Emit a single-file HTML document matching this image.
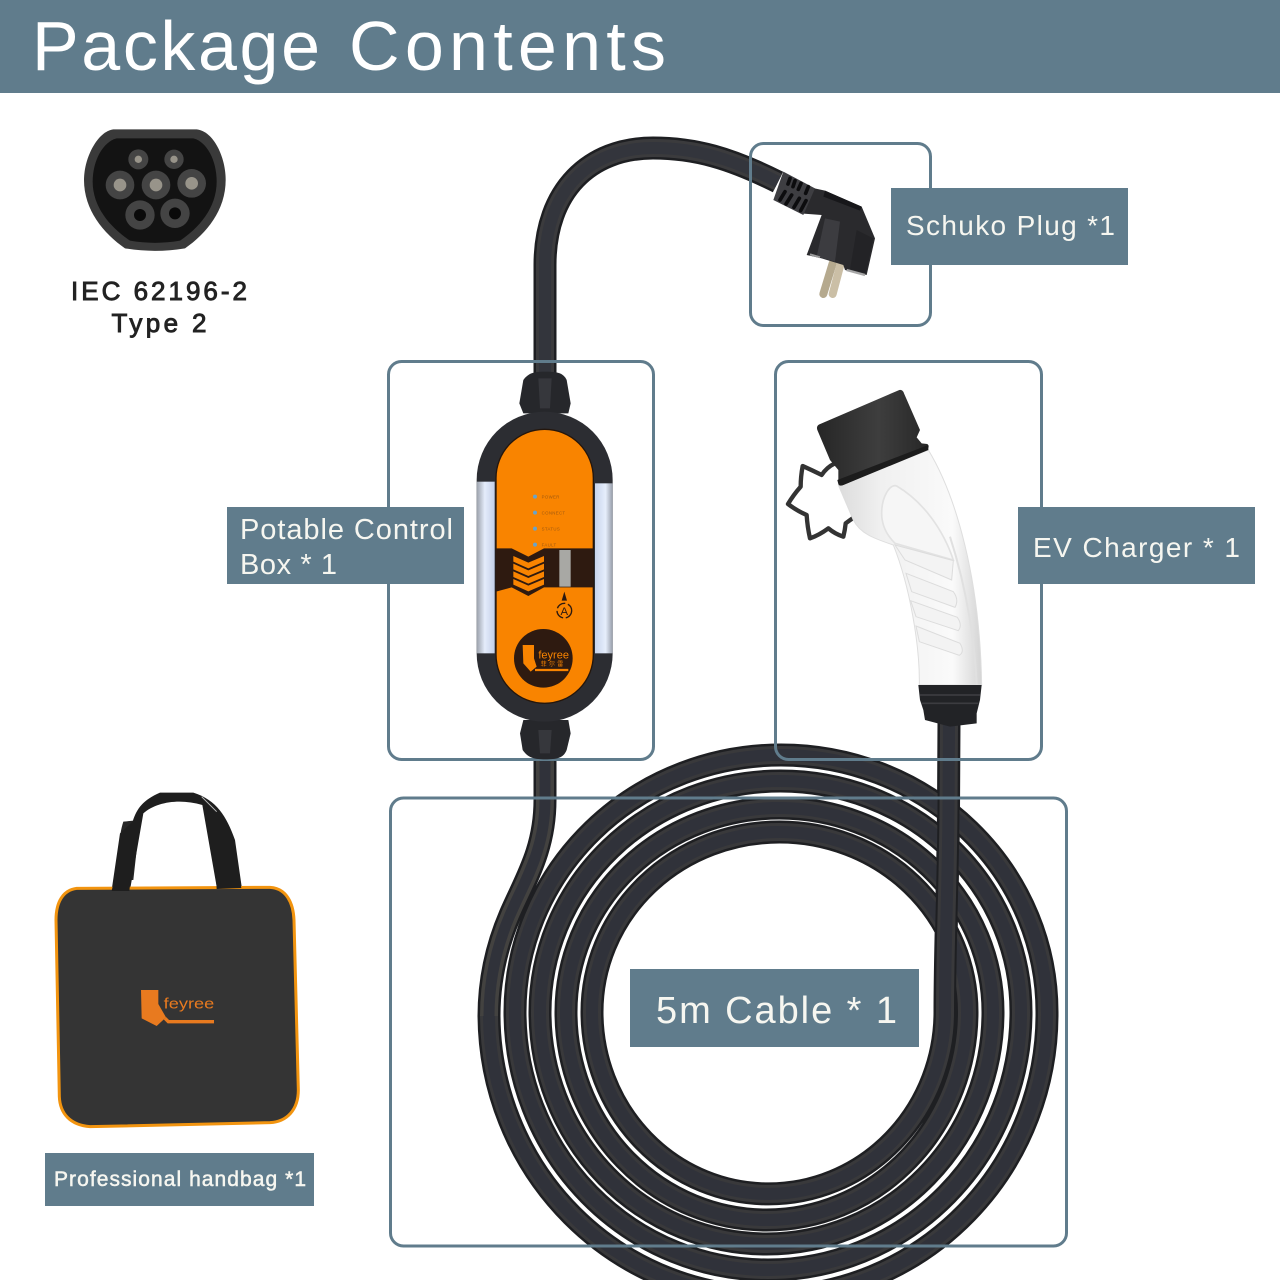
<!DOCTYPE html>
<html lang="en"><head><meta charset="utf-8"><title>Package Contents</title>
<style>html,body{margin:0;padding:0;background:#fff}svg{display:block}text{font-family:"Liberation Sans","Noto Sans CJK SC",sans-serif}</style></head>
<body>
<svg xmlns="http://www.w3.org/2000/svg" width="1280" height="1280" viewBox="0 0 1280 1280">
<defs>
<linearGradient id="capG" x1="0" y1="0" x2="1" y2="0"><stop offset="0" stop-color="#262626"/><stop offset=".55" stop-color="#3e3e3e"/><stop offset="1" stop-color="#272727"/></linearGradient>
<linearGradient id="silver" x1="0" y1="0" x2="1" y2="0"><stop offset="0" stop-color="#9aa0aa"/><stop offset=".45" stop-color="#e4ecfb"/><stop offset="1" stop-color="#c4d0e8"/></linearGradient>
<linearGradient id="silver2" x1="0" y1="0" x2="1" y2="0"><stop offset="0" stop-color="#c8d4ec"/><stop offset=".6" stop-color="#e6eefc"/><stop offset="1" stop-color="#969ca8"/></linearGradient>
<linearGradient id="bodyG" x1="0" y1="0" x2="1" y2="0"><stop offset="0" stop-color="#dcdcdc"/><stop offset=".3" stop-color="#f0f0f0"/><stop offset=".8" stop-color="#fafafa"/><stop offset="1" stop-color="#d4d4d4"/></linearGradient>
<path id="spiral" d="M949,722 L948.5,810 C948,880 945,950 945,1012 A176.5,182 0 0 1 592,1012 A187.5,180 0 0 1 967,1012 A200.5,208 0 0 1 566,1012 A213.5,204 0 0 1 993,1012 A226.5,232 0 0 1 540,1012 A240.5,231 0 0 1 1021,1012 A253,258 0 0 1 515,1012 A266,257 0 0 1 1047,1012 A279,283 0 0 1 489,1016 C489,985 495,950 510,915 C525,880 545,850 545,800 L545,740"/>
<path id="vert" d="M949,722 L948.5,810 C948,880 945,950 945,1012"/>
<path id="inc" d="M489,1016 C489,985 495,950 510,915 C525,880 545,850 545,800 L545,740"/>
<path id="topc" d="M545,380 L545,265 C545,190 590,148 653,148 C695,148 730,158 778,182"/>
</defs>
<rect width="1280" height="1280" fill="#fff"/>
<rect x="0" y="0" width="1280" height="93" fill="#607c8c"/>
<g font-size="70" fill="#fff">
<text x="32" y="70" textLength="288" lengthAdjust="spacing">Package</text>
<text x="349" y="70" textLength="317" lengthAdjust="spacing">Contents</text>
</g>

<!-- coil -->
<g fill="none">
<use href="#spiral" stroke="#1e1f22" stroke-width="23"/>
<use href="#spiral" stroke="#39393b" stroke-width="18"/>
<use href="#spiral" stroke="#30323a" stroke-width="12"/>
<use href="#inc" stroke="#1e1f22" stroke-width="22"/>
<use href="#inc" stroke="#434240" stroke-width="18"/>
<use href="#inc" stroke="#30323a" stroke-width="11"/>
<use href="#vert" stroke="#1e1f22" stroke-width="22"/>
<use href="#vert" stroke="#39393b" stroke-width="18"/>
<use href="#vert" stroke="#30323a" stroke-width="12"/>
<use href="#topc" stroke="#1e1f22" stroke-width="23"/>
<use href="#topc" stroke="#3b3b3d" stroke-width="18"/>
<use href="#topc" stroke="#33353c" stroke-width="12"/>
</g>

<!-- frames -->
<g fill="none" stroke="#607c8c" stroke-width="3">
<rect x="750.5" y="143.5" width="180" height="182" rx="13"/>
<rect x="388.5" y="361.5" width="265" height="398" rx="13"/>
<rect x="775.5" y="361.5" width="266" height="398" rx="13"/>
<rect x="390.5" y="798" width="676" height="448" rx="13"/>
</g>

<!-- plug -->
<g transform="translate(760,150) scale(.33333)">
<path d="M218,340 L190,432" stroke="#b5a98e" stroke-width="24" stroke-linecap="round" fill="none"/>
<path d="M245,330 L218,432" stroke="#cbbfa6" stroke-width="24" stroke-linecap="round" fill="none"/>
<path d="M150,112 L195,122 L305,170 L345,265 L320,375 L255,360 L250,345 L185,325 L140,315 L185,195 L120,190 Z" fill="#2a2a2d"/>
<path d="M195,205 L240,215 L225,335 L170,320 Z" fill="#3c3c40"/>
<path d="M290,240 L340,265 L318,370 L270,358 Z" fill="#232326"/>
<path d="M195,122 L305,170 L300,182 L190,140 Z" fill="#17171a"/>
<path d="M70,65 L165,115 L130,195 L40,150 Z" fill="#3e3e42"/>
<g stroke="#0c0c0e" stroke-width="11" stroke-linecap="round"><path d="M90,85 L84,102M105,92 L99,110M123,100 L115,118M145,110 L137,130M75,125 L60,150M95,135 L78,162M118,145 L102,172M138,152 L122,182"/></g>
<path d="M260,360 L315,375" stroke="#a8a8a8" stroke-width="7"/><path d="M150,313 L180,322" stroke="#999" stroke-width="6"/>
</g>

<!-- EV connector -->
<g transform="translate(780,380) scale(.33333)">
<path d="M165,250 Q140,262 125,285 Q95,270 68,258 Q62,290 62,320 Q40,345 24,372 Q50,392 80,405 Q82,440 90,475 Q118,465 145,445 Q165,462 190,470 Q195,450 197,430 Q210,420 225,410" fill="none" stroke="#333" stroke-width="13" stroke-linejoin="round" stroke-linecap="round"/>
<path d="M175,315 L445,210 C530,350 600,600 605,915 L418,915 C420,800 390,620 340,495 C280,475 240,460 220,420 Z" fill="url(#bodyG)" stroke="#dedede" stroke-width="3"/>
<path d="M305,400 C305,350 330,310 350,318 C430,365 490,450 520,540 L345,490 C325,470 305,440 305,400 Z" fill="#f6f6f6" stroke="#e2e2e2" stroke-width="5"/>
<path d="M345,495 L520,542 L515,600 L375,540 Z M378,580 L520,635 Q538,660 525,682 L395,635 Z M392,662 L532,712 Q548,735 535,752 L408,710 Z M408,738 L540,790 Q555,815 538,826 L418,785Z" fill="#f3f3f3" stroke="#dcdcdc" stroke-width="3"/>
<path d="M510,470 C565,640 585,800 590,915" stroke="#e0e0e0" stroke-width="6" fill="none"/>
<path d="M118,133 L358,30 Q368,28 372,40 L420,150 L410,172 L425,190 L442,192 Q450,198 442,208 L190,315 Q178,320 175,305 L175,270 L150,240 L112,150 Q108,138 118,133 Z" fill="url(#capG)"/>
<path d="M172,300 L445,195 L445,210 L190,315 Q178,320 175,312Z" fill="#1c1c1c"/>
<path d="M415,915 L605,915 L600,960 L590,1000 L590,1030 L510,1040 L435,1020 L430,990 L420,960 Z" fill="#222326"/>
<path d="M420,945 L600,945 M425,970 L595,970" stroke="#3c3c40" stroke-width="5"/>
</g>

<!-- control box -->
<g transform="translate(470,370) scale(.33333)">
<path d="M160,130 L148,100 L160,30 C175,10 190,5 225,5 C265,5 280,10 290,30 L302,100 L295,130Z" fill="#26272b"/>
<path d="M205,25 L245,25 L240,115 L210,115 Z" fill="#36373c"/>
<path d="M160,1050 L150,1090 L158,1140 C175,1165 195,1168 225,1168 C260,1168 280,1165 290,1140 L302,1090 L295,1050Z" fill="#26272b"/>
<path d="M205,1080 L245,1080 L240,1150 L210,1150 Z" fill="#36373c"/>
<rect x="20" y="125" width="408" height="930" rx="204" ry="205" fill="#2c2d32"/>
<rect x="20" y="335" width="54" height="515" fill="url(#silver)"/>
<rect x="375" y="340" width="53" height="510" fill="url(#silver2)"/>
<rect x="78" y="178" width="292" height="822" rx="146" fill="#f98400" stroke="#24160c" stroke-width="4"/>
<path d="M78,535 L125,535 L175,560 L222,535 L370,535 L370,652 L222,652 L175,678 L125,652 L78,665 Z" fill="#2e1a10"/>
<g fill="#f98400">
<path d="M130,558 L175,578 L222,558 L222,575 L175,595 L130,575Z"/>
<path d="M130,581 L175,601 L222,581 L222,598 L175,618 L130,598Z"/>
<path d="M130,604 L175,624 L222,604 L222,621 L175,641 L130,621Z"/>
<path d="M130,627 L175,647 L222,627 L222,644 L175,664 L130,644Z"/>
</g>
<rect x="268" y="540" width="34" height="110" fill="#a8a8a4"/>
<g fill="#6aa3c8"><circle cx="195" cy="380" r="6"/><circle cx="195" cy="428" r="6"/><circle cx="195" cy="476" r="6"/><circle cx="195" cy="524" r="6"/></g>
<g font-size="13" fill="#a05a10" letter-spacing="1">
<text x="215" y="385">POWER</text><text x="215" y="433">CONNECT</text><text x="215" y="481">STATUS</text><text x="215" y="529">FAULT</text></g>
<path d="M283,665 L291,692 L275,692 Z" fill="#2e1a10"/>
<circle cx="283" cy="722" r="22" fill="none" stroke="#2e1a10" stroke-width="4" stroke-dasharray="30 8"/>
<text x="283" y="735" font-size="34" text-anchor="middle" fill="#2e1a10">A</text>
<circle cx="220" cy="865" r="88" fill="#2e1a10"/>
<path d="M158,825 L192,825 L192,865 L200,890 L182,905 L160,880 Z" fill="#f98400"/>
<path d="M195,900 L295,900" stroke="#f98400" stroke-width="7"/>
<text x="205" y="865" font-size="32" fill="#f98400" textLength="92" lengthAdjust="spacingAndGlyphs">feyree</text>
<text x="212" y="888" font-size="18" fill="#f98400" letter-spacing="7">菲尔雷</text>
</g>

<!-- socket -->
<g transform="translate(70,120) scale(.33333)">
<path d="M130,28 L380,28 C430,33 467,110 467,180 C467,270 410,340 345,385 Q255,400 165,385 C100,340 42,270 42,180 C42,110 85,33 130,28 Z" fill="#3a3a3a"/>
<path d="M140,55 L370,55 C410,65 440,120 440,185 C440,265 385,325 330,362 Q255,375 180,362 C125,325 68,265 68,185 C68,120 100,65 140,55 Z" fill="#131313"/>
<g fill="#444"><circle cx="205" cy="118" r="30"/><circle cx="312" cy="118" r="29"/><circle cx="150" cy="195" r="43"/><circle cx="258" cy="195" r="43"/><circle cx="365" cy="190" r="43"/><circle cx="210" cy="285" r="44"/><circle cx="315" cy="280" r="44"/></g>
<g fill="#98948a"><circle cx="205" cy="118" r="11"/><circle cx="312" cy="118" r="11"/><circle cx="150" cy="195" r="19"/><circle cx="258" cy="195" r="19"/><circle cx="365" cy="190" r="19"/></g>
<g fill="#0a0a0a"><circle cx="210" cy="285" r="18"/><circle cx="315" cy="280" r="18"/></g>
</g>
<g fill="#222" stroke="#222" stroke-width=".9" text-anchor="middle">
<text x="159" y="300" font-size="26" textLength="176" lengthAdjust="spacing">IEC 62196-2</text>
<text x="159" y="332" font-size="26" textLength="95" lengthAdjust="spacing">Type 2</text>
</g>

<!-- bag -->
<g transform="translate(40,780) scale(.33333)">
<path d="M250,125 C235,170 238,220 232,300 L280,300 L300,120 Z" fill="#262626"/>
<path d="M215,330 L270,330 L310,100 C350,65 420,55 487,75 L530,320 L605,320 L585,180 C560,110 530,60 460,38 L360,38 C310,60 290,85 278,125 L240,160 Z" fill="#1e1e1e"/>
<path d="M485,50 L530,95" stroke="#bbb" stroke-width="3"/>
<path d="M110,325 L690,322 C740,325 760,370 762,420 L775,930 C775,990 740,1025 690,1028 L150,1040 C90,1035 60,1000 58,950 L48,420 C48,365 70,330 110,325 Z" fill="#343434" stroke="#f2940f" stroke-width="9"/>
<path d="M215,333 L268,333 L272,300 L222,300 Z M530,327 L604,324 L598,290 L528,290Z" fill="#1e1e1e"/>
<path d="M303,630 L355,630 L355,672 L378,712 L350,738 L305,715 Z" fill="#e87a1f"/>
<path d="M375,715 L385,725 L522,725" fill="none" stroke="#e87a1f" stroke-width="10"/>
<text x="371" y="686" font-size="43" fill="#e87a1f" textLength="152" lengthAdjust="spacingAndGlyphs">feyree</text>
</g>

<!-- labels -->
<g fill="#607c8c">
<rect x="891" y="188" width="237" height="77"/>
<rect x="1018" y="507" width="237" height="77"/>
<rect x="227" y="507" width="237" height="77"/>
<rect x="630" y="969" width="289" height="78"/>
<rect x="45" y="1153" width="269" height="53"/>
</g>
<g fill="#f6f6f0">
<text x="906" y="235" font-size="28" textLength="209" lengthAdjust="spacing">Schuko Plug *1</text>
<text x="1033" y="557" font-size="28" textLength="207" lengthAdjust="spacing">EV Charger * 1</text>
<text x="240" y="539" font-size="29" textLength="213" lengthAdjust="spacing">Potable Control</text>
<text x="240" y="574" font-size="29" textLength="97" lengthAdjust="spacing">Box * 1</text>
<text x="656" y="1023" font-size="38" textLength="241" lengthAdjust="spacing">5m Cable * 1</text>
<text x="54" y="1186" font-size="21" textLength="252" lengthAdjust="spacing" stroke="#f6f6f0" stroke-width=".5">Professional handbag *1</text>
</g>
</svg>
</body></html>
